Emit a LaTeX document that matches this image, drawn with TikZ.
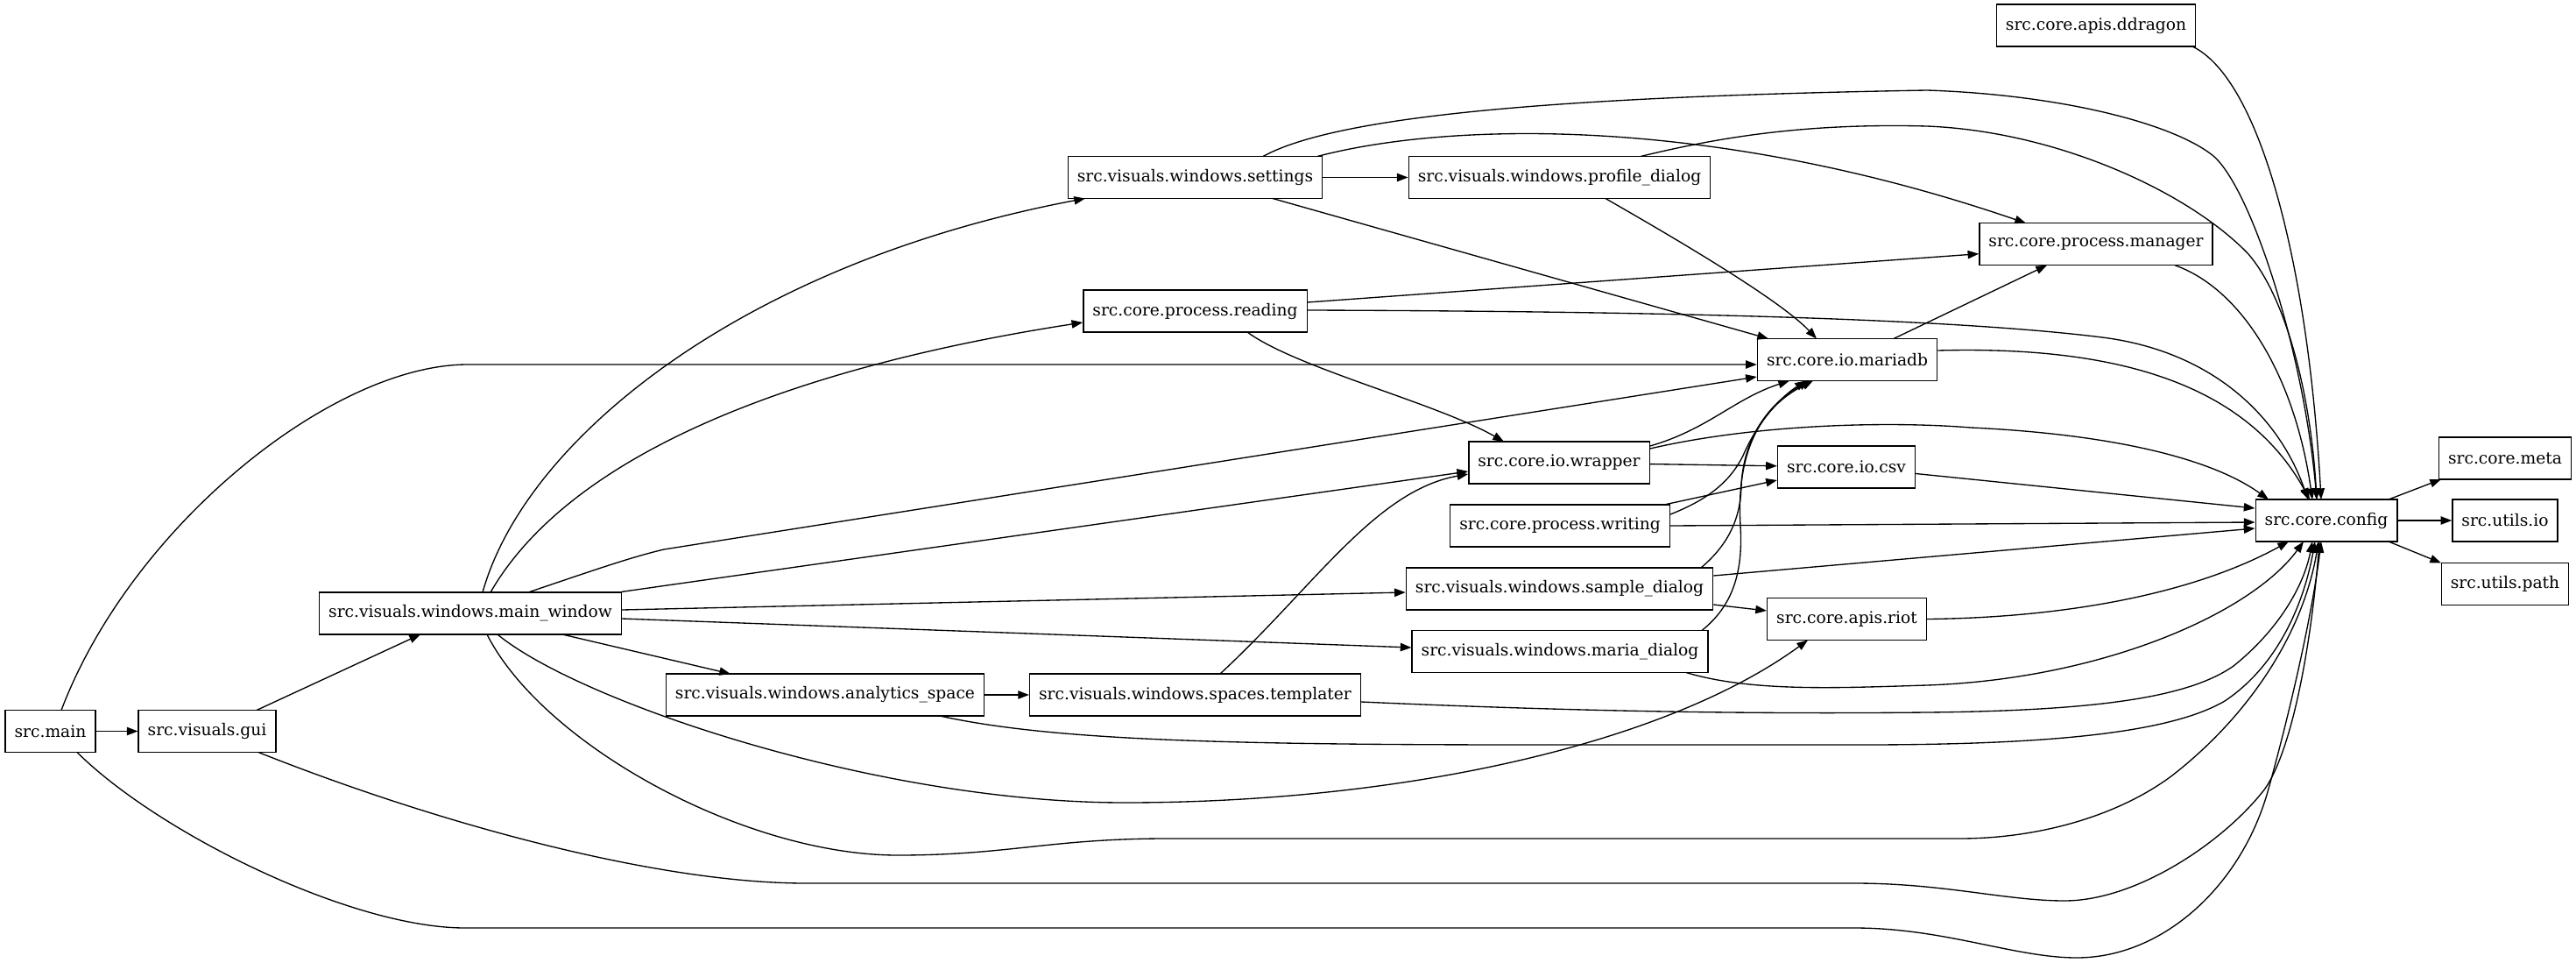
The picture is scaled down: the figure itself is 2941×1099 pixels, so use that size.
\documentclass[tikz,border=0pt]{standalone}
\usepackage{fontspec}
\setmainfont{DejaVu Serif}
\usetikzlibrary{arrows.meta,calc}

\tikzset{
  modbox/.style={draw, line width=1pt, rectangle, minimum height=36pt,
    inner xsep=7.92pt, inner ysep=0pt, font=\fontsize{14}{17}\selectfont},
  dep/.style={line width=1pt, -{Triangle[length=9.5pt,width=7pt]}}
}

\begin{document}
\begin{tikzpicture}[x=0.75pt, y=-0.75pt]
  \useasboundingbox (0,0) rectangle (2941,1099);

  % modules, one column per rank
  \node[modbox] (main)      at (57.5,834.5)  {src.main};
  \node[modbox] (gui)       at (236.5,834.5) {src.visuals.gui};
  \node[modbox] (mainwin)   at (537,700)     {src.visuals.windows.main\_window};
  \node[modbox] (analytics) at (942,793)     {src.visuals.windows.analytics\_space};
  \node[modbox] (settings)  at (1364.5,202.5) {src.visuals.windows.settings};
  \node[modbox] (reading)   at (1364.5,355)  {src.core.process.reading};
  \node[modbox] (templater) at (1364.5,793)  {src.visuals.windows.spaces.templater};
  \node[modbox] (profile)   at (1780.5,202.5) {src.visuals.windows.profile\_dialog};
  \node[modbox] (wrapper)   at (1780,528)    {src.core.io.wrapper};
  \node[modbox] (writing)   at (1781,600)    {src.core.process.writing};
  \node[modbox] (sample)    at (1780.5,672)  {src.visuals.windows.sample\_dialog};
  \node[modbox] (mariadlg)  at (1781,743.5)  {src.visuals.windows.maria\_dialog};
  \node[modbox] (mariadb)   at (2109,410.5)  {src.core.io.mariadb};
  \node[modbox] (csv)       at (2108,533)    {src.core.io.csv};
  \node[modbox] (riot)      at (2108.5,706.5) {src.core.apis.riot};
  \node[modbox] (ddragon)   at (2393,29)     {src.core.apis.ddragon};
  \node[modbox] (manager)   at (2393,278.7)  {src.core.process.manager};
  \node[modbox] (config)    at (2656,594)    {src.core.config};
  \node[modbox] (meta)      at (2860,523)    {src.core.meta};
  \node[modbox] (utilsio)   at (2860,594)    {src.utils.io};
  \node[modbox] (utilspath) at (2860,666.5)  {src.utils.path};

  % src.main and src.visuals.gui
  \draw[dep] (main) -- (gui);
  \draw[dep] ($(main)+(12.5,-24)$) .. controls (150,600) and (380,416) .. (534,416)
    -- ($(mariadb.west)+(0,5.5)$);
  \draw[dep] ($(main)+(30.5,24)$) .. controls (180,950) and (400,1059) .. (531,1059)
    -- (2117,1059) .. controls (2220,1059) and (2300,1093) .. (2371,1093)
    .. controls (2470,1093) and (2560,1010) .. (2590,900)
    .. controls (2615,810) and (2640,700) .. ($(config)+(-6,24)$);
  \draw[dep] ($(gui)+(56.5,-24)$) -- ($(mainwin)+(-57,24)$);
  \draw[dep] ($(gui)+(58.5,24)$) .. controls (500,940) and (750,1008) .. (920,1008)
    -- (2117,1008) .. controls (2220,1008) and (2290,1028) .. (2357,1028)
    .. controls (2440,1028) and (2540,960) .. (2586,900)
    .. controls (2620,850) and (2640,720) .. ($(config)+(-8,24)$);

  % main window
  \draw[dep] ($(mainwin)+(14,-24)$) .. controls (600,500) and (850,300) .. ($(settings)+(-125.5,24)$);
  \draw[dep] ($(mainwin)+(23,-24)$) .. controls (650,520) and (900,420) .. ($(reading.west)+(0,13)$);
  \draw[dep] ($(mainwin)+(66,-24)$) .. controls (680,650) and (720,636) .. (758,627)
    -- ($(mariadb.west)+(0,19.5)$);
  \draw[dep] (mainwin.north east) -- ($(wrapper.west)+(0,10)$);
  \draw[dep] ($(mainwin.east)+(0,-4)$) -- ($(sample.west)+(0,4)$);
  \draw[dep] ($(mainwin.east)+(0,6)$) -- ($(mariadlg.west)+(0,-4.5)$);
  \draw[dep] ($(mainwin)+(105,24)$) -- ($(analytics)+(-108,-24)$);
  \draw[dep] ($(mainwin)+(31,24)$) .. controls (660,800) and (1000,916) .. (1284,916)
    .. controls (1600,916) and (1900,850) .. ($(riot)+(-44.5,24)$);
  \draw[dep] ($(mainwin)+(19,24)$) .. controls (620,850) and (850,976) .. (1025,976)
    .. controls (1150,976) and (1200,957) .. (1332,957) -- (2237,957)
    .. controls (2330,957) and (2420,930) .. (2480,885)
    .. controls (2570,815) and (2630,720) .. ($(config)+(-9,24)$);

  % analytics space and templater
  \draw[dep] (analytics) -- (templater);
  \draw[dep] ($(analytics)+(131,24)$) .. controls (1200,845) and (1400,850) .. (1753,850)
    -- (2126,850) .. controls (2350,850) and (2480,835) .. (2540,800)
    .. controls (2600,760) and (2630,690) .. ($(config)+(-13,24)$);
  \draw[dep] ($(templater)+(28.5,-24)$) .. controls (1500,670) and (1570,560) .. ($(wrapper.west)+(0,13)$);
  \draw[dep] ($(templater.east)+(0,8)$) .. controls (1800,812) and (2000,815) .. (2200,813)
    .. controls (2400,811) and (2500,795) .. (2550,760)
    .. controls (2600,720) and (2630,670) .. ($(config)+(-16,24)$);

  % settings and profile dialog
  \draw[dep] (settings) -- (profile);
  \draw[dep] ($(settings)+(77.5,-24)$) .. controls (1530,130) and (1800,110) .. (2200,103)
    .. controls (2350,108) and (2480,140) .. (2527,178)
    .. controls (2570,215) and (2630,400) .. ($(config)+(-11,-24)$);
  \draw[dep] ($(settings)+(139.5,-24)$) .. controls (1650,140) and (1950,130) .. ($(manager)+(-80,-24)$);
  \draw[dep] ($(settings)+(88.5,24)$) -- ($(mariadb)+(-90,-24)$);
  \draw[dep] ($(profile)+(92.5,-24)$) .. controls (1950,160) and (2050,140) .. (2200,144)
    .. controls (2350,150) and (2500,220) .. (2567,290)
    .. controls (2610,340) and (2638,450) .. ($(config)+(-11,-24)$);
  \draw[dep] ($(profile)+(52.5,24)$) .. controls (1900,265) and (2030,340) .. ($(mariadb)+(-35,-24)$);

  % reading
  \draw[dep] ($(reading.east)+(0,-10)$) -- ($(manager.west)+(0,11)$);
  \draw[dep] ($(reading.east)+(0,-1)$) .. controls (1800,355) and (2200,360) .. (2400,385)
    .. controls (2520,400) and (2600,470) .. ($(config)+(-21,-24)$);
  \draw[dep] ($(reading)+(59.5,24)$) .. controls (1480,420) and (1640,460) .. ($(wrapper)+(-63,-24)$);

  % io layer
  \draw[dep] ($(mariadb)+(53,-24)$) -- ($(manager)+(-56,24)$);
  \draw[dep] ($(mariadb.east)+(0,-10.5)$) .. controls (2400,395) and (2560,430) .. ($(config)+(-19,-24)$);
  \draw[dep] ($(wrapper.east)+(0,-19)$) .. controls (1950,490) and (1980,455) .. ($(mariadb)+(-66,24)$);
  \draw[dep] (wrapper) -- (csv);
  \draw[dep] ($(wrapper.east)+(0,-16)$) .. controls (2000,485) and (2150,480) .. (2250,488)
    .. controls (2400,495) and (2520,520) .. ($(config)+(-66,-24)$);
  \draw[dep] ($(csv.east)+(0,7.5)$) -- ($(config.west)+(0,-14)$);

  % writing and dialogs
  \draw[dep] ($(writing)+(119,-24)$) -- ($(csv.west)+(0,15)$);
  \draw[dep] ($(writing.east)+(0,-13)$) .. controls (1950,570) and (1975,550) .. (1990,520)
    .. controls (2005,485) and (2030,455) .. ($(mariadb)+(-47,24)$);
  \draw[dep] (writing.east) -- ($(config.west)+(0,2)$);
  \draw[dep] ($(sample)+(161.5,-24)$) .. controls (1975,620) and (1987,590) .. (1988,555)
    .. controls (1990,500) and (2020,460) .. ($(mariadb)+(-43,24)$);
  \draw[dep] ($(sample.east)+(0,18)$) -- ($(riot.west)+(0,-9.5)$);
  \draw[dep] ($(sample.east)+(0,-15)$) -- ($(config.west)+(0,9)$);
  \draw[dep] ($(mariadlg)+(162,-24)$) .. controls (1980,690) and (1990,650) .. (1987,600)
    .. controls (1983,530) and (2000,470) .. ($(mariadb)+(-39,24)$);
  \draw[dep] ($(mariadlg)+(144,24)$) .. controls (2000,790) and (2100,785) .. (2200,782)
    .. controls (2400,775) and (2570,700) .. ($(config)+(-26,24)$);
  \draw[dep] (riot.east) .. controls (2350,705) and (2500,680) .. ($(config)+(-43,24)$);

  % into and out of config
  \draw[dep] ($(ddragon)+(110,24)$) .. controls (2580,90) and (2635,300) .. ($(config)+(-6,-24)$);
  \draw[dep] ($(manager)+(90,24)$) .. controls (2560,330) and (2620,430) .. ($(config)+(-16,-24)$);
  \draw[dep] ($(config)+(71,-24)$) -- ($(meta)+(-73,24)$);
  \draw[dep] (config) -- (utilsio);
  \draw[dep] ($(config)+(71,24)$) -- ($(utilspath)+(-73,-24)$);
\end{tikzpicture}
\end{document}
